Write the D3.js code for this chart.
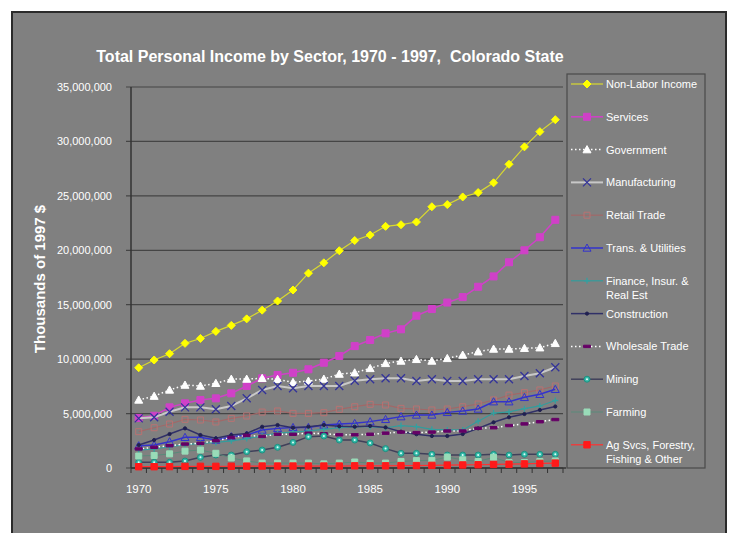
<!DOCTYPE html>
<html><head><meta charset="utf-8">
<script src="https://cdn.jsdelivr.net/npm/d3@7"></script>
<style>body{margin:0;background:#fff}svg{display:block;font-family:"Liberation Sans",Arial,sans-serif}</style>
</head><body><svg id="c" width="731" height="533"></svg>
<script>
const years = [1970,1971,1972,1973,1974,1975,1976,1977,1978,1979,1980,1981,1982,1983,1984,1985,1986,1987,1988,1989,1990,1991,1992,1993,1994,1995,1996,1997];
const xTickLabels = [1970,1975,1980,1985,1990,1995];
const yTicks = [0,5,10,15,20,25,30,35]; // millions
const yTickLabels = ["0","5,000,000","10,000,000","15,000,000","20,000,000","25,000,000","30,000,000","35,000,000"];

// values in millions of thousands of 1997 $
const nonLabor = [9.21,9.92,10.5,11.45,11.9,12.55,13.1,13.7,14.5,15.34,16.35,17.9,18.85,19.96,20.9,21.4,22.2,22.35,22.6,24.0,24.2,24.9,25.3,26.2,27.9,29.5,30.9,32.0];
const services = [4.6,4.8,5.57,5.94,6.25,6.4,6.86,7.53,8.24,8.54,8.75,9.07,9.67,10.29,11.2,11.76,12.37,12.74,13.99,14.6,15.2,15.7,16.65,17.6,18.9,20.0,21.2,22.8];
const government = [6.25,6.6,7.17,7.62,7.53,7.78,8.17,8.17,8.24,8.15,7.87,7.99,8.17,8.63,8.75,9.15,9.61,9.83,9.98,9.83,10.07,10.38,10.68,10.93,10.93,11.0,11.05,11.45];
const manufacturing = [4.56,4.66,5.17,5.57,5.57,5.39,5.7,6.4,7.17,7.53,7.32,7.53,7.53,7.53,8.02,8.15,8.24,8.24,7.99,8.15,7.99,7.99,8.15,8.15,8.15,8.45,8.7,9.25];
const retail = [3.34,3.7,4.04,4.47,4.41,4.23,4.56,4.78,5.14,5.24,5.02,5.02,5.08,5.39,5.63,5.85,5.79,5.48,5.42,5.33,5.42,5.63,5.88,6.25,6.7,6.92,7.17,7.53];
const transUtil = [2.05,2.11,2.42,2.82,2.82,2.57,2.88,3.03,3.49,3.64,3.73,3.73,3.95,4.04,4.1,4.26,4.47,4.72,4.87,4.87,5.11,5.24,5.42,6.09,6.09,6.49,6.77,7.23];
const finance = [1.65,1.75,1.95,2.15,2.25,2.35,2.5,2.7,2.95,3.2,3.3,3.4,3.55,3.7,3.8,3.8,3.7,3.9,3.8,3.55,3.5,3.5,4.3,5.05,5.15,5.45,5.7,6.2];
const construction = [2.11,2.57,3.12,3.64,3.03,2.73,3.03,3.18,3.79,3.95,3.7,3.79,3.95,3.83,3.79,3.86,3.73,3.34,3.1,2.94,2.94,3.12,3.64,4.2,4.66,4.96,5.33,5.65];
const wholesale = [1.75,1.9,2.05,2.2,2.27,2.5,2.8,3.0,2.9,3.1,3.1,3.2,3.15,3.05,3.05,3.1,3.2,3.3,3.25,3.3,3.4,3.4,3.65,3.7,3.9,4.05,4.25,4.45];
const mining = [0.52,0.52,0.52,0.64,0.98,1.19,1.19,1.5,1.65,1.9,2.35,2.88,2.94,2.57,2.57,2.3,1.78,1.35,1.35,1.26,1.19,1.19,1.19,1.26,1.19,1.26,1.26,1.26];
const farming = [1.1,1.15,1.3,1.55,1.65,1.35,0.92,0.65,0.45,0.45,0.45,0.45,0.38,0.45,0.55,0.45,0.45,0.6,0.68,0.7,1.0,0.75,0.6,0.98,0.5,0.5,0.6,0.65];
const agSvcs = [0.12,0.12,0.13,0.15,0.15,0.15,0.16,0.17,0.18,0.18,0.18,0.18,0.18,0.18,0.2,0.2,0.2,0.22,0.22,0.24,0.26,0.28,0.3,0.33,0.35,0.38,0.42,0.45];

const seriesNames = [["Non-Labor Income"],["Services"],["Government"],["Manufacturing"],["Retail Trade"],["Trans. & Utilities"],["Finance, Insur. &","Real Est"],["Construction"],["Wholesale Trade"],["Mining"],["Farming"],["Ag Svcs, Forestry,","Fishing & Other"]];
const seriesData = [nonLabor,services,government,manufacturing,retail,transUtil,finance,construction,wholesale,mining,farming,agSvcs];
const styles = [
  {line:"#d8d830", w:1.2, dash:null, m:"diamond", fill:"#ffff00", stroke:"#ffff00", s:4},
  {line:"#d040c8", w:1.5, dash:null, m:"square", fill:"#d040c8", stroke:"#d040c8", s:3.5},
  {line:"#ffffff", w:1.5, dash:"1.5,2.5", m:"triangle", fill:"#ffffff", stroke:"#ffffff", s:4},
  {line:"#c8c8c8", w:2, dash:null, m:"x", fill:"none", stroke:"#333399", s:4},
  {line:"#a06868", w:1.2, dash:null, m:"square", fill:"none", stroke:"#b87272", s:3},
  {line:"#3333cc", w:1.5, dash:null, m:"triangle", fill:"none", stroke:"#3333cc", s:4},
  {line:"#339c9c", w:1.2, dash:null, m:"plus", fill:"none", stroke:"#33a0a0", s:3},
  {line:"#303068", w:1.5, dash:null, m:"dot", fill:"#202050", stroke:"#202050", s:1.6},
  {line:"#ffffff", w:1.5, dash:"1.5,2.5", m:"dash", fill:"#660066", stroke:"#660066", s:3.5},
  {line:"#40405a", w:1.5, dash:null, m:"circle", fill:"#33bbaa", stroke:"#1f8f80", s:3},
  {line:"#5a8a7a", w:1, dash:null, m:"square", fill:"#99dbb8", stroke:"#99dbb8", s:3},
  {line:"#ff3030", w:1.2, dash:null, m:"square", fill:"#ff1a1a", stroke:"#ff1a1a", s:3.2}
];

const svg = d3.select("#c");
svg.append("rect").attr("x",12).attr("y",12).attr("width",714).attr("height",530)
  .attr("fill","#808080").attr("stroke","#2a2a2a").attr("stroke-width",2);

const x = d3.scalePoint().domain(years).range([131,563]).padding(0.5);
const step = x.step();
const y = d3.scaleLinear().domain([0,35]).range([468,87]);

// gridlines
svg.append("g").selectAll("line").data(yTicks).join("line")
  .attr("x1",126).attr("x2",563).attr("y1",d=>y(d)).attr("y2",d=>y(d))
  .attr("stroke","#454545").attr("stroke-width",1.2);
// y labels
svg.append("g").selectAll("text").data(yTicks).join("text")
  .attr("x",112).attr("y",d=>y(d)+4).attr("text-anchor","end")
  .attr("fill","#fff").attr("font-size",11).text((d,i)=>yTickLabels[i]);
// axes
svg.append("line").attr("x1",131).attr("x2",131).attr("y1",87).attr("y2",468).attr("stroke","#333").attr("stroke-width",1.5);
svg.append("line").attr("x1",131).attr("x2",566).attr("y1",468).attr("y2",468).attr("stroke","#333").attr("stroke-width",1.5);
// x ticks at category boundaries
const bounds = years.map(yv=>x(yv)-step/2).concat([x(years[years.length-1])+step/2]);
svg.append("g").selectAll("line").data(bounds).join("line")
  .attr("x1",d=>d).attr("x2",d=>d).attr("y1",468).attr("y2",473).attr("stroke","#333");
svg.append("g").selectAll("text").data(xTickLabels).join("text")
  .attr("x",d=>x(d)).attr("y",493).attr("text-anchor","middle")
  .attr("fill","#fff").attr("font-size",11.5).text(d=>d);

// title
svg.append("text").attr("x",330).attr("y",62).attr("text-anchor","middle")
  .attr("fill","#fff").attr("font-size",16).attr("font-weight","bold")
  .style("white-space","pre").text("Total Personal Income by Sector, 1970 - 1997,  Colorado State");
svg.append("text").attr("transform","translate(45,279) rotate(-90)").attr("text-anchor","middle")
  .attr("fill","#fff").attr("font-size",15).attr("font-weight","bold").text("Thousands of 1997 $");

function marker(g, type, cx, cy, st){
  const s = st.s;
  let p;
  if(type==="diamond") p=`M${cx},${cy-s}L${cx+s},${cy}L${cx},${cy+s}L${cx-s},${cy}Z`;
  else if(type==="square") p=`M${cx-s},${cy-s}h${2*s}v${2*s}h${-2*s}Z`;
  else if(type==="triangle") p=`M${cx},${cy-s}L${cx+s},${cy+s*0.8}L${cx-s},${cy+s*0.8}Z`;
  else if(type==="x") p=`M${cx-s},${cy-s}L${cx+s},${cy+s}M${cx+s},${cy-s}L${cx-s},${cy+s}`;
  else if(type==="plus") p=`M${cx-s},${cy}L${cx+s},${cy}M${cx},${cy-s}L${cx},${cy+s}`;
  else if(type==="dash") p=`M${cx-s},${cy-1.2}h${2*s}v2.4h${-2*s}Z`;
  if(type==="dot"||type==="circle"){
    g.append("circle").attr("cx",cx).attr("cy",cy).attr("r",s)
      .attr("fill",st.fill).attr("stroke",st.stroke).attr("stroke-width",1);
    if(type==="circle") g.append("circle").attr("cx",cx).attr("cy",cy).attr("r",1).attr("fill","#e0fff8");
    return;
  }
  g.append("path").attr("d",p).attr("fill",st.fill).attr("stroke",st.stroke)
    .attr("stroke-width",(type==="x"||type==="plus")?1.3:1);
}

const line = d3.line().x((d,i)=>x(years[i])).y(d=>y(d));
seriesData.forEach((data,k)=>{
  const st = styles[k];
  const g = svg.append("g");
  g.append("path").attr("d",line(data)).attr("fill","none").attr("stroke",st.line)
    .attr("stroke-width",st.w).attr("stroke-dasharray",st.dash);
  data.forEach((v,i)=>marker(g, st.m, x(years[i]), y(v), st));
});

// legend
svg.append("rect").attr("x",567).attr("y",74).attr("width",138).attr("height",394)
  .attr("fill","#808080").attr("stroke","#4a4a4a").attr("stroke-width",1.2);
const ly = d3.scaleLinear().domain([0,11]).range([84,444.8]);
seriesNames.forEach((nm,k)=>{
  const st = styles[k];
  const cy = ly(k);
  const g = svg.append("g");
  g.append("line").attr("x1",571).attr("x2",603).attr("y1",cy).attr("y2",cy)
    .attr("stroke",st.line).attr("stroke-width",st.w).attr("stroke-dasharray",st.dash);
  marker(g, st.m, 587, cy, st);
  nm.forEach((t,j)=>g.append("text").attr("x",606).attr("y",cy+4+j*14)
    .attr("fill","#fff").attr("font-size",11).text(t));
});
</script></body></html>
